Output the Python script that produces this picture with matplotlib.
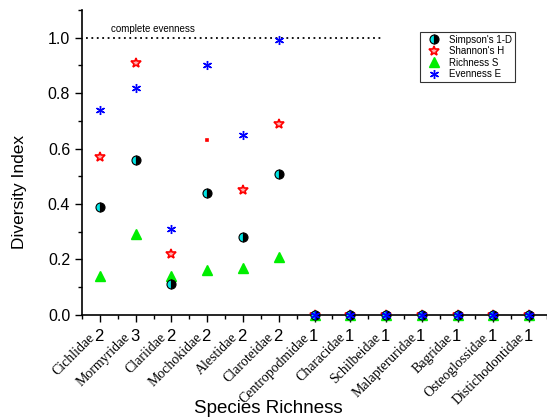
import matplotlib.pyplot as plt
import numpy as np
from matplotlib.ticker import MultipleLocator

# families and their species richness
families = ['Cichlidae', 'Mormyridae', 'Clariidae', 'Mochokidae', 'Alestidae', 'Claroteidae',
            'Centropodmidae', 'Characidae', 'Schilbeidae', 'Malapteruridae', 'Bagridae',
            'Osteoglossidae', 'Distichodontidae']
richness_counts = [2, 3, 2, 2, 2, 2, 1, 1, 1, 1, 1, 1, 1]

simpson = [0.39, 0.56, 0.11, 0.44, 0.28, 0.51, 0, 0, 0, 0, 0, 0, 0]
shannon = [0.57, 0.91, 0.22, 0.63, 0.45, 0.69, 0, 0, 0, 0, 0, 0, 0]
richness = [0.14, 0.29, 0.14, 0.16, 0.17, 0.21, 0, 0, 0, 0, 0, 0, 0]
evenness = [0.74, 0.82, 0.31, 0.90, 0.65, 0.99, 0, 0, 0, 0, 0, 0, 0]

plt.rcParams['font.family'] = ['Liberation Sans', 'DejaVu Sans']

fig = plt.figure(figsize=(5.47, 4.17), dpi=100)
ax = fig.add_axes([0.15, 0.245, 0.85, 0.731])

x = np.arange(1, len(families) + 1)

# Shannon's H (Mochokidae value drawn as a tiny mark, as in the original)
sh_size = [7.5 if i != 3 else 1.8 for i in range(len(x))]
for xi, yi, s in zip(x, shannon, sh_size):
    ax.plot(xi, yi, marker='*' if s > 2 else 's', ls='none', ms=s,
            mfc='#ffb0b0' if s > 2 else 'red', mec='red', mew=1.2, clip_on=False, zorder=3)
ax.plot([], [], marker='*', ls='none', ms=7.5, mfc='#ffb0b0', mec='red', mew=1.2,
        label="Shannon's H")

ax.plot(x, richness, marker='^', ls='none', ms=7, color='#00ee00', mec='#00ee00',
        clip_on=False, zorder=3, label='Richness S')
ax.plot(x, evenness, marker=(6, 2, 0), ls='none', ms=6.5, color='blue', mew=1.0,
        clip_on=False, zorder=4, label='Evenness E')
ax.plot(x, simpson, marker='o', ls='none', ms=6.5, fillstyle='left', mfc='#00e5e5',
        mfcalt='black', mec='black', mew=0.8, clip_on=False, zorder=3, label="Simpson's 1-D")

# reference line
ax.plot([0.62, 8.9], [1.0, 1.0], ls=(0, (1, 2)), color='black', lw=1.3)
ax.text(1.3, 1.015, 'complete evenness', fontsize=7, va='bottom', ha='left')

ax.set_xlim(0.5, 13.5)
ax.set_ylim(0, 1.1)
ax.yaxis.set_major_locator(MultipleLocator(0.2))
ax.yaxis.set_minor_locator(MultipleLocator(0.1))
ax.set_xticks(x)
ax.set_xticklabels([])
ax.xaxis.set_minor_locator(MultipleLocator(0.5))
ax.tick_params(which='both', direction='out', width=1)
ax.tick_params(which='major', length=5, labelsize=11.5)
ax.tick_params(which='minor', length=3)
ax.yaxis.set_major_formatter(plt.FuncFormatter(lambda v, p: f'{v:.1f}'))
for s in ['top', 'right']:
    ax.spines[s].set_visible(False)
ax.spines['left'].set_linewidth(1.2)
ax.spines['bottom'].set_linewidth(1.2)

# tick labels: rotated family name plus upright richness count
trans = ax.get_xaxis_transform()
for xi, name, n in zip(x, families, richness_counts):
    ax.text(xi - 0.2, -0.068, name, rotation=45, rotation_mode='anchor', ha='right',
            va='center', fontsize=10, family='Liberation Serif', transform=trans)
    ax.text(xi - 0.03, -0.07, str(n), ha='center', va='center', fontsize=12, transform=trans)

fig.text(0.035, 0.54, 'Diversity Index', rotation=90, ha='center', va='center', fontsize=12.5)
fig.text(0.49, 0.04, 'Species Richness', ha='center', va='top', fontsize=13.5)

handles, labels = ax.get_legend_handles_labels()
order = [labels.index(l) for l in ["Simpson's 1-D", "Shannon's H", 'Richness S', 'Evenness E']]
leg = ax.legend([handles[i] for i in order], [labels[i] for i in order],
                loc='upper right', bbox_to_anchor=(0.942, 0.944), fontsize=7,
                frameon=True, fancybox=False, edgecolor='black', handletextpad=0.5,
                borderpad=0.3, labelspacing=0.15, handlelength=2.2)
leg.get_frame().set_linewidth(0.8)

plt.savefig('out.png', dpi=100, facecolor='white')
